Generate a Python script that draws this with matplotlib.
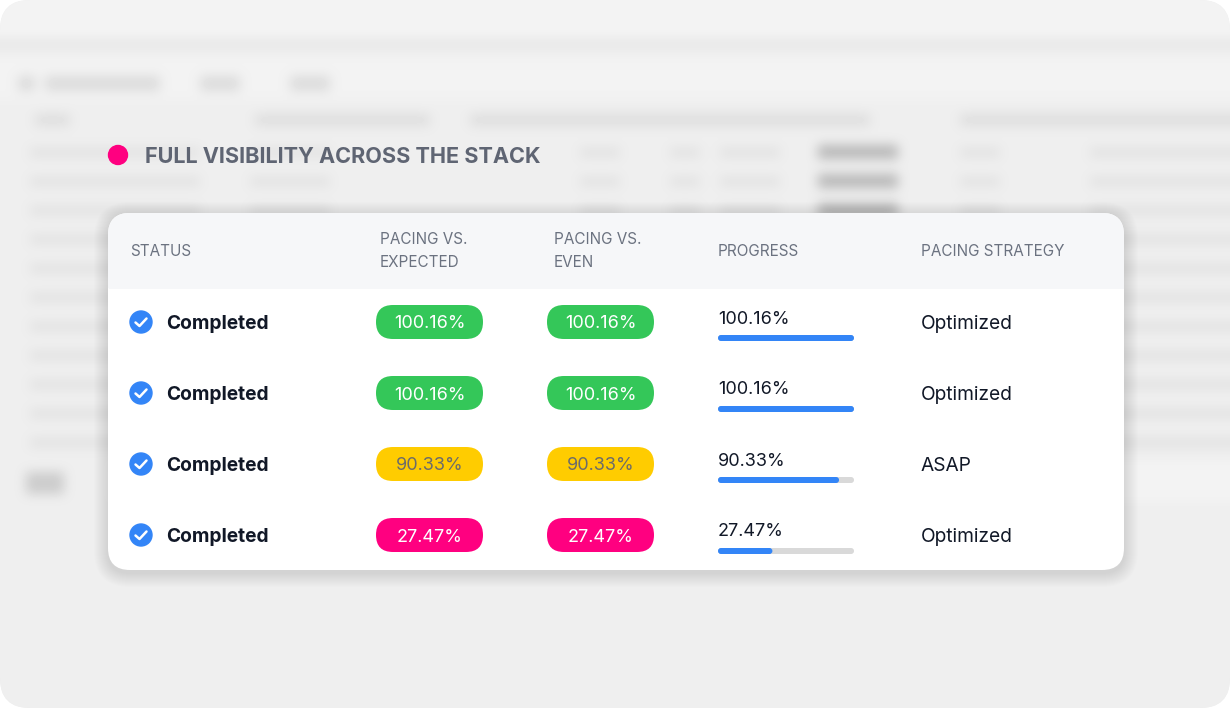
import numpy as np
import matplotlib
matplotlib.use("Agg")
import matplotlib.pyplot as plt
from matplotlib.patches import FancyBboxPatch, Circle

plt.rcParams['font.family'] = ['Inter', 'DejaVu Sans']

# table content
title = "FULL VISIBILITY ACROSS THE STACK"
headers = ["STATUS", "PACING VS.\nEXPECTED", "PACING VS.\nEVEN", "PROGRESS", "PACING STRATEGY"]
status = ["Completed", "Completed", "Completed", "Completed"]
pacing_expected = [100.16, 100.16, 90.33, 27.47]
pacing_even = [100.16, 100.16, 90.33, 27.47]
progress = [100.16, 100.16, 90.33, 27.47]
progress_fill = [1.0, 1.0, 0.89, 0.40]   # bar fill as drawn
strategy = ["Optimized", "Optimized", "ASAP", "Optimized"]

W, H = 1230, 708
GREEN, YELLOW, PINK = "#34c759", "#ffcc00", "#ff0080"
BLUE = "#3385f7"


def pill_color(v):
    if v >= 100:
        return GREEN, "white"
    if v >= 50:
        return YELLOW, "#6b6b6b"
    return PINK, "white"


def box_blur(a, k, n):
    # k odd; repeated box filter ~ gaussian
    p = k // 2
    for _ in range(n):
        b = np.pad(a, p, mode="edge")
        c = np.cumsum(np.pad(b, ((0, 0), (1, 0))), axis=1)
        b = (c[:, k:] - c[:, :-k]) / k
        c = np.cumsum(np.pad(b, ((1, 0), (0, 0))), axis=0)
        a = (c[k:, :] - c[:-k, :]) / k
    return a


fig = plt.figure(figsize=(W / 100, H / 100), dpi=100)
fig.patch.set_facecolor("white")
ax = fig.add_axes([0, 0, 1, 1])
ax.set_xlim(0, W)
ax.set_ylim(H, 0)
ax.axis("off")

# outer rounded panel
panel = FancyBboxPatch((0, 0), W, H, boxstyle="round,pad=0,rounding_size=30",
                       fc="#ededed", ec="none", zorder=0)
ax.add_patch(panel)

# blurred app screenshot behind the card
bg = np.full((H, W), 0.935)
bg[:38, :] = 0.955
bg[38:52, :] = 0.91
bg[52:100, :] = 0.95
for x0, x1 in [(18, 35), (45, 160), (200, 240), (290, 330)]:
    bg[76:91, x0:x1] = 0.86
for x0, x1 in [(35, 70), (255, 430), (470, 870), (960, 1230)]:
    bg[114:126, x0:x1] = 0.87
for y in range(148, 440, 29):
    for x0, x1 in [(30, 200), (250, 330), (580, 620), (670, 700), (720, 780), (960, 1000), (1090, 1230)]:
        bg[y:y + 9, x0:x1] = 0.88
    if y < 230:
        bg[y - 3:y + 11, 818:898] = 0.72
bg[472:494, 26:64] = 0.8
bg[462:500, 110:1230] = 0.955
bg = box_blur(bg, 11, 3)
im = ax.imshow(bg, cmap="gray", vmin=0, vmax=1, extent=(0, W, H, 0), zorder=1,
               interpolation="bilinear")
im.set_clip_path(panel)

# title
ax.add_patch(Circle((118, 155), 9.5, color=PINK, zorder=3))
ax.text(145, 157, title, fontsize=15.6, fontweight="bold", color="#5f6573",
        va="center", ha="left", zorder=3)

# card with soft shadow
cx0, cy0, cw, ch = 108, 213, 1016, 357
for i in range(14, 0, -1):
    ax.add_patch(FancyBboxPatch((cx0 - i, cy0 - i + 3), cw + 2 * i, ch + 2 * i,
                                boxstyle="round,pad=0,rounding_size=%d" % (22 + i),
                                fc="black", ec="none", alpha=0.006, zorder=2))
card = FancyBboxPatch((cx0, cy0), cw, ch, boxstyle="round,pad=0,rounding_size=22",
                      fc="white", ec="none", zorder=3)
ax.add_patch(card)
head = ax.fill_between([cx0, cx0 + cw], cy0, 287, color="#f6f7f9", zorder=4)
head.set_clip_path(card)

col_x = [130, 380, 554, 718, 921]
for x, h in zip(col_x, headers):
    ax.text(x, 251, h, fontsize=11, color="#6b7280", va="center", ha="left",
            linespacing=1.65, zorder=5)

row_y = [322, 393, 464, 535]
for i, y in enumerate(row_y):
    # status
    ax.add_patch(Circle((141, y), 11, color=BLUE, zorder=5))
    ax.plot([135.5, 139.5, 146.5], [y + 0.5, y + 4, y - 3.5], color="white",
            lw=1.8, solid_capstyle="round", solid_joinstyle="round", zorder=6)
    ax.text(166, y + 2, status[i], fontsize=13.8, fontweight="bold", color="#111827",
            va="center", ha="left", zorder=5)

    # pacing pills
    for px, v in [(376, pacing_expected[i]), (547, pacing_even[i])]:
        fc, tc = pill_color(v)
        ax.add_patch(FancyBboxPatch((px, y - 17), 107, 34,
                                    boxstyle="round,pad=0,rounding_size=17",
                                    fc=fc, ec="none", zorder=5))
        ax.text(px + 53.5, y + 2, "%.2f%%" % v, fontsize=13, color=tc,
                va="center", ha="center", zorder=6)

    # progress
    ax.text(718, y - 3, "%.2f%%" % progress[i], fontsize=13, color="#111827",
            va="center", ha="left", zorder=5)
    bw = 136
    ax.add_patch(FancyBboxPatch((718, y + 13), bw, 6, boxstyle="round,pad=0,rounding_size=3",
                                fc="#d9d9d9", ec="none", zorder=5))
    ax.add_patch(FancyBboxPatch((718, y + 13), bw * progress_fill[i], 6,
                                boxstyle="round,pad=0,rounding_size=3",
                                fc=BLUE, ec="none", zorder=6))

    # strategy
    ax.text(921, y + 2, strategy[i], fontsize=13.8, color="#111827",
            va="center", ha="left", zorder=5)

fig.savefig("out.png", dpi=100, facecolor="white")
